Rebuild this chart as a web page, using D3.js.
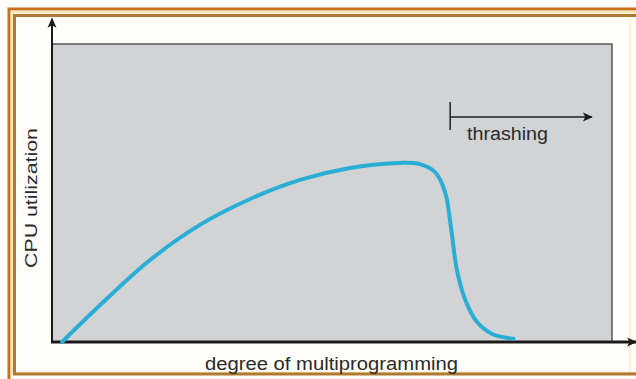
<!DOCTYPE html>
<html>
<head>
<meta charset="utf-8">
<script src="https://cdn.jsdelivr.net/npm/d3@7"></script>
<style>
  html, body { margin: 0; padding: 0; background: #fffefa; }
  svg { display: block; font-family: "Liberation Sans", Arial, sans-serif; }
</style>
</head>
<body>
<svg id="chart" width="636" height="379"></svg>
<script>
// CPU utilization as the degree of multiprogramming grows
const degree      = [1.8, 8.6, 17.5, 26.4, 35.4, 44.3, 53.2, 62.1, 65.7, 68.4, 70.2, 71.3, 72.3, 73.8, 75.9, 78.6, 82.4];
const utilization = [0,  12.4, 27.5, 39.3, 48.0, 54.4, 58.4, 60.1, 59.7, 57.0, 50.3, 37.6, 24.2, 14.1, 6.7, 2.7, 1.1];

// thrashing region marker: starts at the collapse and points right
const thrashStart = 71.1;
const thrashEnd = 96.4;
const thrashLevel = 75.5;
const thrashTick = [71.1, 80.5];

const xLabel = "degree of multiprogramming";
const yLabel = "CPU utilization";
const thrashLabel = "thrashing";

const svg = d3.select("#chart");
const W = 636, H = 379;

// decorative double frame
svg.append("rect").attr("x", 0).attr("y", 0).attr("width", W).attr("height", H).attr("fill", "#fffefa");
svg.append("rect").attr("x", 9).attr("y", 9).attr("width", W + 20).attr("height", H + 20)
  .attr("fill", "none").attr("stroke", "#c8701a").attr("stroke-width", 3);
svg.append("rect").attr("x", 12).attr("y", 12).attr("width", W + 20).attr("height", 372 - 12 + 1)
  .attr("fill", "none").attr("stroke", "#f8e6b4").attr("stroke-width", 2.5);
svg.append("rect").attr("x", 14.5).attr("y", 15.5).attr("width", W + 20).attr("height", 374 - 15.5)
  .attr("fill", "none").attr("stroke", "#b07a32").attr("stroke-width", 3);
svg.append("line").attr("x1", 630).attr("x2", 630).attr("y1", 19).attr("y2", 372)
  .attr("stroke", "#fdf3d6").attr("stroke-width", 3);

const x = d3.scaleLinear().domain([0, 100]).range([52, 612]);
const y = d3.scaleLinear().domain([0, 100]).range([342, 44]);

// plot area
svg.append("rect")
  .attr("x", x(0)).attr("y", y(100))
  .attr("width", x(100) - x(0)).attr("height", y(0) - y(100))
  .attr("fill", "#d1d3d5")
  .attr("stroke", "#333").attr("stroke-width", 1.2);

const defs = svg.append("defs");
defs.append("marker").attr("id", "arrow")
  .attr("viewBox", "0 0 10 10").attr("refX", 9).attr("refY", 5)
  .attr("markerWidth", 10).attr("markerHeight", 10).attr("markerUnits", "userSpaceOnUse")
  .attr("orient", "auto")
  .append("path").attr("d", "M0,0.5 L10,5 L0,9.5 L2.5,5 Z").attr("fill", "#1a1a1a");

// axes drawn from the scales, extended with arrowheads
svg.append("line")
  .attr("x1", x(0)).attr("y1", y(0) + 1).attr("x2", x(0)).attr("y2", y(108.5))
  .attr("stroke", "#1a1a1a").attr("stroke-width", 2)
  .attr("marker-end", "url(#arrow)");
svg.append("line")
  .attr("x1", x(0) - 1).attr("y1", y(0)).attr("x2", x(104.3)).attr("y2", y(0))
  .attr("stroke", "#1a1a1a").attr("stroke-width", 3)
  .attr("marker-end", "url(#arrow)");

// utilization curve
const line = d3.line()
  .x((d, i) => x(degree[i]))
  .y(d => y(d))
  .curve(d3.curveCatmullRom.alpha(0.5));
svg.append("path")
  .datum(utilization)
  .attr("d", line)
  .attr("fill", "none")
  .attr("stroke", "#2aaed6")
  .attr("stroke-width", 4)
  .attr("stroke-linecap", "round");

// thrashing marker
svg.append("line")
  .attr("x1", x(thrashStart)).attr("x2", x(thrashStart))
  .attr("y1", y(thrashTick[0])).attr("y2", y(thrashTick[1]))
  .attr("stroke", "#222").attr("stroke-width", 1.5);
svg.append("line")
  .attr("x1", x(thrashStart)).attr("x2", x(thrashEnd))
  .attr("y1", y(thrashLevel)).attr("y2", y(thrashLevel))
  .attr("stroke", "#222").attr("stroke-width", 1.5)
  .attr("marker-end", "url(#arrow)");
svg.append("text")
  .attr("x", 467).attr("y", 140)
  .attr("font-size", 18).attr("fill", "#2a2a2a")
  .attr("textLength", 81).attr("lengthAdjust", "spacingAndGlyphs")
  .text(thrashLabel);

// axis titles
svg.append("text")
  .attr("x", 205).attr("y", 370)
  .attr("font-size", 18).attr("fill", "#2a2a2a")
  .attr("textLength", 253).attr("lengthAdjust", "spacingAndGlyphs")
  .text(xLabel);
svg.append("text")
  .attr("transform", "translate(37,268) rotate(-90)")
  .attr("font-size", 17).attr("fill", "#2a2a2a")
  .attr("textLength", 140).attr("lengthAdjust", "spacingAndGlyphs")
  .text(yLabel);
</script>
</body>
</html>
